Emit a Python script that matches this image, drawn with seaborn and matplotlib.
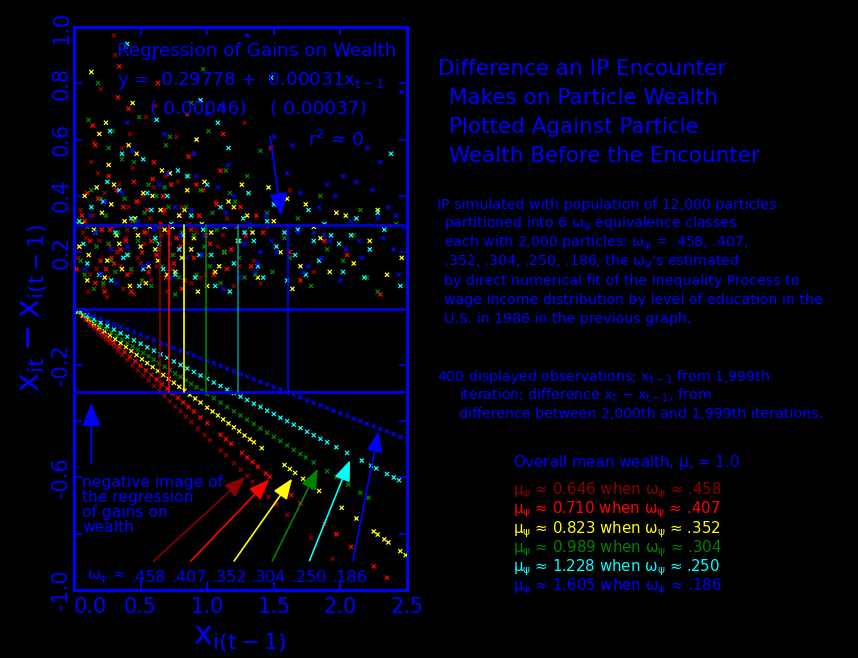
import numpy as np
import pandas as pd
import matplotlib
matplotlib.use("Agg")
import matplotlib.pyplot as plt
import seaborn as sns

# -----------------------------
# Data: six omega classes
# -----------------------------
omegas = [".458", ".407", ".352", ".304", ".250", ".186"]
class_means = [0.646, 0.710, 0.823, 0.989, 1.228, 1.605]
mean_labels = ["0.646", "0.710", "0.823", "0.989", "1.228", "1.605"]
class_colors = ["#8b0000", "#ff0000", "#ffff00", "#008200", "#00ffff", "#0000ff"]
vline_colors = ["#8b0000", "#ff0000", "#ffff00", "#008200", "#008b8b", "#0000ff"]

intercept = 0.29778  # regression of gains on wealth

# losses (points on the lines), x = wealth before, y = change
loss_x_458 = [0.03, 0.06, 0.09, 0.12, 0.15, 0.18, 0.21, 0.24, 0.27, 0.30, 0.33, 0.36, 0.40, 0.44,
              0.48, 0.52, 0.56, 0.60, 0.64, 0.68, 0.72, 0.76, 0.80, 0.84, 0.88, 0.93, 0.98, 1.02,
              1.10, 1.14, 1.20, 1.25, 1.30, 1.34, 1.46, 1.52, 1.60, 1.78, 1.94]
loss_y_458 = [-0.014, -0.027, -0.041, -0.055, -0.069, -0.082, -0.096, -0.110, -0.124, -0.137,
              -0.151, -0.165, -0.183, -0.202, -0.220, -0.238, -0.256, -0.275, -0.293, -0.311,
              -0.330, -0.348, -0.366, -0.385, -0.403, -0.426, -0.449, -0.467, -0.504, -0.522,
              -0.550, -0.573, -0.595, -0.614, -0.669, -0.696, -0.733, -0.815, -0.889]

loss_x_407 = [0.03, 0.06, 0.09, 0.12, 0.15, 0.18, 0.21, 0.24, 0.27, 0.30, 0.34, 0.38, 0.42, 0.46,
              0.50, 0.54, 0.58, 0.62, 0.66, 0.70, 0.74, 0.78, 0.82, 0.86, 0.90, 0.95, 1.00, 1.10,
              1.14, 1.18, 1.26, 1.30, 1.34, 1.38, 1.44, 1.47, 1.63, 1.70, 1.88, 1.97, 2.08, 2.25, 2.35]
loss_y_407 = [-0.012, -0.024, -0.037, -0.049, -0.061, -0.073, -0.085, -0.098, -0.110, -0.122,
              -0.138, -0.155, -0.171, -0.187, -0.204, -0.220, -0.236, -0.252, -0.269, -0.285,
              -0.301, -0.317, -0.334, -0.350, -0.366, -0.387, -0.407, -0.448, -0.464, -0.480,
              -0.513, -0.529, -0.545, -0.562, -0.586, -0.598, -0.663, -0.692, -0.765, -0.802,
              -0.847, -0.916, -0.956]

loss_x_352 = [0.03, 0.07, 0.11, 0.15, 0.19, 0.23, 0.27, 0.31, 0.35, 0.39, 0.43, 0.47, 0.51, 0.55,
              0.59, 0.63, 0.67, 0.71, 0.75, 0.79, 0.83, 0.87, 0.91, 0.95, 1.00, 1.04, 1.08, 1.12,
              1.16, 1.20, 1.24, 1.28, 1.32, 1.35, 1.41, 1.58, 1.62, 1.66, 1.72, 1.76, 1.80, 1.84,
              2.01, 2.12, 2.25, 2.28, 2.33, 2.36, 2.45, 2.49]
loss_y_352 = [-0.011, -0.025, -0.039, -0.053, -0.067, -0.081, -0.095, -0.109, -0.123, -0.137,
              -0.151, -0.165, -0.180, -0.194, -0.208, -0.222, -0.236, -0.250, -0.264, -0.278,
              -0.292, -0.306, -0.320, -0.334, -0.352, -0.366, -0.380, -0.394, -0.408, -0.422,
              -0.436, -0.451, -0.465, -0.475, -0.496, -0.556, -0.570, -0.584, -0.605, -0.620,
              -0.634, -0.648, -0.708, -0.746, -0.792, -0.803, -0.820, -0.831, -0.862, -0.876]

loss_x_304 = [0.04, 0.08, 0.12, 0.16, 0.20, 0.24, 0.28, 0.32, 0.36, 0.40, 0.44, 0.48, 0.52, 0.56,
              0.60, 0.64, 0.68, 0.72, 0.76, 0.80, 0.84, 0.88, 0.92, 0.96, 1.00, 1.05, 1.10, 1.15,
              1.20, 1.25, 1.30, 1.35, 1.40, 1.45, 1.50, 1.55, 1.60, 1.65, 1.70, 1.74, 1.80, 1.90,
              1.97, 2.06, 2.15, 2.21]
loss_y_304 = [-0.012, -0.024, -0.036, -0.049, -0.061, -0.073, -0.085, -0.097, -0.109, -0.122,
              -0.134, -0.146, -0.158, -0.170, -0.182, -0.195, -0.207, -0.219, -0.231, -0.243,
              -0.255, -0.268, -0.280, -0.292, -0.304, -0.319, -0.334, -0.350, -0.365, -0.380,
              -0.395, -0.410, -0.426, -0.441, -0.456, -0.471, -0.486, -0.502, -0.517, -0.529,
              -0.547, -0.578, -0.599, -0.626, -0.654, -0.672]

loss_x_250 = [0.05, 0.10, 0.15, 0.20, 0.25, 0.30, 0.35, 0.40, 0.45, 0.50, 0.55, 0.60, 0.65, 0.70,
              0.75, 0.80, 0.85, 0.90, 0.95, 1.00, 1.05, 1.10, 1.15, 1.20, 1.25, 1.30, 1.35, 1.40,
              1.45, 1.50, 1.55, 1.60, 1.65, 1.70, 1.75, 1.80, 1.85, 1.90, 1.97, 2.05, 2.16, 2.23,
              2.27, 2.35, 2.40, 2.44]
loss_y_250 = [-0.013, -0.025, -0.038, -0.050, -0.063, -0.075, -0.088, -0.100, -0.113, -0.125,
              -0.138, -0.150, -0.163, -0.175, -0.188, -0.200, -0.213, -0.225, -0.238, -0.250,
              -0.263, -0.275, -0.288, -0.300, -0.313, -0.325, -0.338, -0.350, -0.363, -0.375,
              -0.388, -0.400, -0.413, -0.425, -0.438, -0.450, -0.463, -0.475, -0.493, -0.513,
              -0.540, -0.558, -0.568, -0.588, -0.600, -0.610]

loss_x_186 = [0.10, 0.15, 0.20, 0.25, 0.30, 0.35, 0.40, 0.45, 0.50, 0.55, 0.60, 0.65, 0.70, 0.75,
              0.80, 0.85, 0.90, 0.95, 1.00, 1.05, 1.10, 1.15, 1.20, 1.25, 1.30, 1.35, 1.40, 1.45,
              1.50, 1.55, 1.60, 1.65, 1.70, 1.75, 1.80, 1.85, 1.90, 1.95, 2.00, 2.05, 2.10, 2.15,
              2.20, 2.25, 2.30, 2.35, 2.40, 2.45, 2.50]
loss_y_186 = [-0.019, -0.028, -0.037, -0.047, -0.056, -0.065, -0.074, -0.084, -0.093, -0.102,
              -0.112, -0.121, -0.130, -0.140, -0.149, -0.158, -0.167, -0.177, -0.186, -0.195,
              -0.205, -0.214, -0.223, -0.233, -0.242, -0.251, -0.260, -0.270, -0.279, -0.288,
              -0.298, -0.307, -0.316, -0.326, -0.335, -0.344, -0.353, -0.363, -0.372, -0.381,
              -0.391, -0.400, -0.409, -0.419, -0.428, -0.437, -0.446, -0.456, -0.465]

# gains (scattered points above zero)
gain_x_458 = [0.05, 0.12, 0.18, 0.22, 0.27, 0.31, 0.35, 0.38, 0.42, 0.45, 0.48, 0.52, 0.55, 0.58,
              0.61, 0.64, 0.67, 0.70, 0.74, 0.78, 0.82, 0.86, 0.90, 0.95, 1.00, 1.06, 1.12, 1.20,
              1.28, 1.35, 1.45, 1.62, 1.80, 0.09, 0.15, 0.25, 0.33, 0.40, 0.50, 0.60, 0.72, 0.88,
              1.15, 0.20, 0.44,
              0.03, 0.07, 0.11, 0.14, 0.17, 0.19, 0.23, 0.26, 0.29, 0.32, 0.34, 0.37, 0.39, 0.41,
              0.43, 0.46, 0.49, 0.51, 0.53, 0.57, 0.62, 0.66, 0.69, 0.75, 0.81, 0.92, 0.99, 1.08,
              1.24, 1.40, 0.13, 0.36, 0.54, 0.77, 0.30]
gain_y_458 = [0.35, 0.12, 0.48, 0.08, 0.22, 0.90, 0.15, 0.31, 0.62, 0.05, 0.18, 0.40, 0.27, 0.10,
              0.72, 0.21, 0.34, 0.06, 0.14, 0.45, 0.24, 0.30, 0.55, 0.11, 0.19, 0.38, 0.26, 0.08,
              0.66, 0.17, 0.29, 0.42, 0.13, 0.25, 0.59, 0.04, 0.20, 0.28, 0.16, 0.43, 0.23, 0.09,
              0.32, 0.78, 0.50,
              0.18, 0.27, 0.06, 0.33, 0.14, 0.24, 0.41, 0.11, 0.29, 0.20, 0.44, 0.07, 0.25, 0.36,
              0.13, 0.28, 0.38, 0.09, 0.23, 0.32, 0.15, 0.26, 0.47, 0.19, 0.36, 0.27, 0.12, 0.22,
              0.15, 0.09, 0.52, 0.57, 0.68, 0.61, 0.97]

gain_x_407 = [0.04, 0.10, 0.16, 0.21, 0.26, 0.30, 0.34, 0.39, 0.43, 0.47, 0.51, 0.56, 0.60, 0.65,
              0.69, 0.73, 0.77, 0.81, 0.85, 0.90, 0.94, 0.99, 1.05, 1.10, 1.18, 1.25, 1.33, 1.42,
              1.55, 1.70, 1.88, 2.05, 2.30, 0.08, 0.14, 0.24, 0.37, 0.53, 0.63, 0.80, 0.97, 1.22,
              1.48, 0.28, 0.68,
              0.02, 0.06, 0.12, 0.18, 0.20, 0.23, 0.27, 0.32, 0.35, 0.40, 0.44, 0.45, 0.49, 0.55,
              0.58, 0.62, 0.67, 0.71, 0.75, 0.79, 0.83, 0.88, 0.92, 1.02, 1.07, 1.15, 1.29, 1.37,
              1.62, 0.16, 0.41, 0.59, 0.86, 1.12, 0.33]
gain_y_407 = [0.22, 0.41, 0.09, 0.28, 0.47, 0.16, 0.86, 0.24, 0.06, 0.38, 0.20, 0.13, 0.52, 0.30,
              0.11, 0.44, 0.25, 0.07, 0.69, 0.18, 0.33, 0.26, 0.12, 0.49, 0.21, 0.36, 0.15, 0.27,
              0.40, 0.10, 0.24, 0.19, 0.05, 0.31, 0.65, 0.14, 0.36, 0.27, 0.80, 0.22, 0.42, 0.29,
              0.57, 0.18, 0.35,
              0.14, 0.33, 0.24, 0.39, 0.17, 0.06, 0.28, 0.42, 0.21, 0.12, 0.31, 0.45, 0.08, 0.35,
              0.24, 0.19, 0.40, 0.27, 0.16, 0.33, 0.10, 0.28, 0.44, 0.23, 0.37, 0.14, 0.26, 0.33,
              0.20, 0.58, 0.71, 0.46, 0.54, 0.62, 0.75]

gain_x_352 = [0.06, 0.11, 0.17, 0.23, 0.28, 0.32, 0.36, 0.41, 0.46, 0.50, 0.54, 0.59, 0.63, 0.68,
              0.72, 0.76, 0.83, 0.88, 0.93, 0.98, 1.03, 1.09, 1.16, 1.23, 1.30, 1.38, 1.46, 1.55,
              1.64, 1.74, 1.85, 1.97, 2.10, 2.22, 2.35, 2.46, 0.13, 0.26, 0.44, 0.57, 0.79, 1.00,
              1.60, 1.92, 0.19,
              0.04, 0.08, 0.10, 0.15, 0.21, 0.25, 0.30, 0.34, 0.38, 0.42, 0.48, 0.52, 0.56, 0.61,
              0.65, 0.70, 0.74, 0.81, 0.85, 0.90, 0.96, 1.06, 1.13, 1.20, 1.34, 1.50, 1.70, 1.80,
              2.04, 0.24, 0.47, 0.66, 0.92, 1.26, 2.28]
gain_y_352 = [0.30, 0.19, 0.43, 0.11, 0.37, 0.26, 0.14, 0.58, 0.32, 0.22, 0.09, 0.40, 0.17, 0.28,
              0.48, 0.13, 0.35, 0.21, 0.06, 0.45, 0.27, 0.15, 0.38, 0.24, 0.33, 0.11, 0.43, 0.20,
              0.07, 0.37, 0.25, 0.34, 0.16, 0.24, 0.12, 0.18, 0.84, 0.51, 0.73, 0.29, 0.33, 0.08,
              0.39, 0.13, 0.62,
              0.22, 0.40, 0.10, 0.28, 0.34, 0.17, 0.44, 0.23, 0.31, 0.08, 0.26, 0.41, 0.15, 0.21,
              0.35, 0.12, 0.29, 0.18, 0.42, 0.25, 0.30, 0.13, 0.20, 0.36, 0.27, 0.31, 0.15, 0.29,
              0.33, 0.66, 0.55, 0.49, 0.60, 0.44, 0.35]

gain_x_304 = [0.05, 0.10, 0.15, 0.20, 0.26, 0.31, 0.36, 0.41, 0.46, 0.51, 0.56, 0.61, 0.66, 0.71,
              0.76, 0.81, 0.86, 0.92, 0.98, 1.04, 1.10, 1.17, 1.24, 1.32, 1.40, 1.49, 1.58, 1.68,
              1.78, 1.90, 2.02, 2.15, 2.28, 2.42, 0.18, 0.29, 0.49, 0.69, 0.88, 1.14, 1.36, 0.39,
              0.62, 1.01, 2.20,
              0.03, 0.08, 0.13, 0.17, 0.22, 0.24, 0.28, 0.33, 0.38, 0.43, 0.48, 0.53, 0.58, 0.64,
              0.68, 0.74, 0.79, 0.84, 0.90, 0.95, 1.02, 1.07, 1.13, 1.21, 1.28, 1.45, 1.62, 1.85,
              2.10, 0.26, 0.45, 0.72, 0.97, 1.30, 0.11]
gain_y_304 = [0.17, 0.29, 0.07, 0.39, 0.23, 0.13, 0.53, 0.19, 0.31, 0.10, 0.44, 0.24, 0.15, 0.36,
              0.05, 0.27, 0.47, 0.12, 0.22, 0.34, 0.09, 0.41, 0.18, 0.29, 0.56, 0.13, 0.25, 0.32,
              0.08, 0.21, 0.17, 0.35, 0.06, 0.30, 0.80, 0.63, 0.68, 0.58, 0.73, 0.49, 0.12, 0.93,
              0.40, 0.63, 0.11,
              0.30, 0.12, 0.42, 0.22, 0.09, 0.33, 0.17, 0.27, 0.39, 0.14, 0.24, 0.34, 0.08, 0.29,
              0.43, 0.19, 0.11, 0.36, 0.26, 0.42, 0.15, 0.28, 0.20, 0.38, 0.11, 0.34, 0.18, 0.40,
              0.26, 0.57, 0.52, 0.61, 0.85, 0.47, 0.67]

gain_x_250 = [0.07, 0.13, 0.19, 0.25, 0.31, 0.37, 0.43, 0.49, 0.55, 0.61, 0.67, 0.73, 0.79, 0.85,
              0.91, 0.97, 1.03, 1.10, 1.17, 1.24, 1.31, 1.38, 1.45, 1.52, 1.60, 1.68, 1.76, 1.84,
              1.93, 2.02, 2.12, 2.22, 2.33, 2.45, 0.27, 0.52, 0.78, 1.08, 1.28, 1.56, 1.99, 2.38,
              0.95, 1.74, 0.40,
              0.04, 0.10, 0.16, 0.22, 0.28, 0.34, 0.40, 0.46, 0.52, 0.58, 0.64, 0.70, 0.76, 0.82,
              0.88, 0.94, 1.00, 1.06, 1.13, 1.20, 1.27, 1.35, 1.42, 1.50, 1.58, 1.66, 1.80, 1.88,
              2.08, 2.18, 2.28, 0.36, 0.62, 1.16, 1.48]
gain_y_250 = [0.23, 0.36, 0.12, 0.45, 0.27, 0.18, 0.32, 0.08, 0.41, 0.25, 0.14, 0.30, 0.21, 0.47,
              0.11, 0.28, 0.19, 0.36, 0.06, 0.24, 0.41, 0.15, 0.31, 0.22, 0.10, 0.28, 0.35, 0.17,
              0.26, 0.13, 0.32, 0.21, 0.28, 0.08, 0.63, 0.53, 0.49, 0.66, 0.27, 0.38, 0.23, 0.55,
              0.74, 0.12, 0.94,
              0.31, 0.16, 0.27, 0.38, 0.10, 0.42, 0.19, 0.29, 0.14, 0.35, 0.23, 0.40, 0.12, 0.26,
              0.33, 0.19, 0.44, 0.08, 0.29, 0.16, 0.32, 0.24, 0.11, 0.37, 0.27, 0.19, 0.24, 0.30,
              0.26, 0.11, 0.34, 0.55, 0.67, 0.57, 0.82]

gain_x_186 = [0.08, 0.16, 0.24, 0.32, 0.40, 0.48, 0.56, 0.64, 0.72, 0.80, 0.88, 0.96, 1.04, 1.12,
              1.20, 1.28, 1.36, 1.44, 1.52, 1.60, 1.68, 1.76, 1.84, 1.92, 2.00, 2.08, 2.16, 2.24,
              2.32, 2.40, 2.48, 0.44, 0.68, 0.92, 1.16, 1.40, 1.64, 1.88, 2.12, 2.36, 1.00, 1.30,
              1.90, 2.20, 0.60,
              0.12, 0.20, 0.28, 0.36, 0.52, 0.60, 0.76, 0.84, 1.08, 1.24, 1.32, 1.48, 1.56, 1.72,
              1.80, 1.96, 2.04, 2.28, 2.44, 0.70, 0.98, 1.14, 1.38, 1.62, 1.86, 2.14, 2.42, 0.90,
              1.50, 2.30, 0.40, 1.10, 1.70, 2.02, 2.46]
gain_y_186 = [0.14, 0.27, 0.38, 0.09, 0.22, 0.31, 0.16, 0.44, 0.11, 0.26, 0.35, 0.19, 0.29, 0.07,
              0.40, 0.23, 0.13, 0.33, 0.20, 0.48, 0.27, 0.15, 0.36, 0.24, 0.10, 0.31, 0.18, 0.42,
              0.25, 0.21, 0.29, 0.56, 0.62, 0.47, 0.51, 0.20, 0.58, 0.26, 0.45, 0.36, 0.69, 0.97,
              0.44, 0.57, 0.89,
              0.33, 0.12, 0.21, 0.41, 0.15, 0.28, 0.36, 0.18, 0.43, 0.11, 0.30, 0.24, 0.37, 0.13,
              0.27, 0.40, 0.21, 0.32, 0.12, 0.48, 0.26, 0.34, 0.16, 0.29, 0.18, 0.24, 0.33, 0.55,
              0.61, 0.52, 0.66, 0.72, 0.41, 0.47, 0.77]

loss_x = [loss_x_458, loss_x_407, loss_x_352, loss_x_304, loss_x_250, loss_x_186]
loss_y = [loss_y_458, loss_y_407, loss_y_352, loss_y_304, loss_y_250, loss_y_186]
gain_x = [gain_x_458, gain_x_407, gain_x_352, gain_x_304, gain_x_250, gain_x_186]
gain_y = [gain_y_458, gain_y_407, gain_y_352, gain_y_304, gain_y_250, gain_y_186]

# arrow tails/heads from the omega labels to the end of each line
arrow_tail_x = [0.58, 0.86, 1.19, 1.48, 1.76, 2.09]
arrow_head_x = [1.30, 1.48, 1.65, 1.84, 2.08, 2.29]
arrow_head_y = [-0.592, -0.600, -0.596, -0.560, -0.530, -0.426]

rows = []
for w, gx, gy, lx, ly in zip(omegas, gain_x, gain_y, loss_x, loss_y):
    for a, b in zip(gx + lx, gy + ly):
        rows.append((w, a, b))
df = pd.DataFrame(rows, columns=["omega", "x_prev", "diff"])

# -----------------------------
# Figure
# -----------------------------
sns.set_style("ticks")
plt.rcParams["font.family"] = ["DejaVu Sans"]
plt.rcParams["mathtext.default"] = "regular"
plt.rcParams["axes.unicode_minus"] = False

BLUE = "#0000ff"
W, H = 858, 658
fig = plt.figure(figsize=(W / 100, H / 100), dpi=100, facecolor="black")
ax = fig.add_axes([74 / W, 1 - 590 / H, 333 / W, 563 / H])
ax.set_facecolor("black")


def fx(px):
    return px / W


def fy(py):
    return 1 - py / H


sns.scatterplot(data=df, x="x_prev", y="diff", hue="omega", hue_order=omegas,
                palette=dict(zip(omegas, class_colors)), marker="x", s=9,
                linewidth=0.9, legend=False, ax=ax, zorder=3)

# regression line and its negative image
ax.axhline(intercept, color="#0000d0", lw=2.2, zorder=4)
ax.axhline(-intercept, color="#0000d0", lw=2.2, zorder=4)
ax.axhline(0, color="#0000d0", lw=2.2, zorder=4)

# vertical lines at class mean wealth
for m, c in zip(class_means, vline_colors):
    ax.plot([m, m], [-intercept, intercept], color=c, lw=1.2, zorder=4)

ax.set_xlim(0, 2.5)
ax.set_ylim(-1, 1)
ax.set_xticks([0, 0.5, 1.0, 1.5, 2.0, 2.5])
ax.set_xticklabels(["0.0", "0.5", "1.0", "1.5", "2.0", "2.5"])
ax.set_yticks([-1.0, -0.8, -0.6, -0.4, -0.2, 0.0, 0.2, 0.4, 0.6, 0.8, 1.0])
ax.set_yticklabels(["-1.0", "", "-0.6", "", "-0.2", "", "0.2", "0.4", "0.6", "0.8", "1.0"],
                   rotation=90, va="center")
ax.xaxis.get_ticklabels()[0].set_horizontalalignment("left")
ax.tick_params(direction="in", length=6, width=1.2, colors=BLUE, labelsize=15,
               top=True, right=True)
ax.tick_params(axis="y", pad=2)
ax.tick_params(axis="x", pad=5)
for sp in ax.spines.values():
    sp.set_color(BLUE)
    sp.set_linewidth(2.2)
ax.set_xlabel("")
ax.set_ylabel("")

fig.text(fx(34), fy(308), r"$x_{it} - x_{i(t-1)}$", rotation=90, color=BLUE,
         fontsize=23, ha="center", va="center")
fig.text(fx(240), fy(638), r"$x_{i(t-1)}$", color=BLUE, fontsize=23,
         ha="center", va="center")

# -----------------------------
# Annotations inside the plot
# -----------------------------
ax.text(0.32, 0.915, "Regression of Gains on Wealth", color=BLUE, fontsize=13.2,
        ha="left", va="center", zorder=6)
ax.text(0.32, 0.81, r"y =  0.29778 +  0.00031$x_{t-1}$", color=BLUE, fontsize=13.2,
        ha="left", va="center", zorder=6)
ax.text(0.57, 0.71, "( 0.00046)    ( 0.00037)", color=BLUE, fontsize=13.2,
        ha="left", va="center", zorder=6)
ax.text(1.76, 0.60, r"$r^2$ ≈ 0", color=BLUE, fontsize=13.2, ha="left", va="center", zorder=6)
ax.annotate("", xy=(1.56, 0.319), xytext=(1.47, 0.62),
            arrowprops=dict(arrowstyle="-|>,head_length=1.0,head_width=0.4",
                            color=BLUE, lw=1.3, mutation_scale=14), zorder=6)

ax.annotate("", xy=(0.13, -0.326), xytext=(0.13, -0.56),
            arrowprops=dict(arrowstyle="-|>,head_length=1.0,head_width=0.4",
                            color=BLUE, lw=1.3, mutation_scale=14), zorder=6)
for i, line in enumerate(["negative image of", "the regression", "of gains on", "wealth"]):
    ax.text(0.06, -0.617 - 0.054 * i, line, color=BLUE, fontsize=11.2,
            ha="left", va="center", zorder=6)

ax.text(0.10, -0.954, r"$\omega_\psi$ ≈", color=BLUE, fontsize=11,
        ha="left", va="center", zorder=6)
label_x = [0.556, 0.864, 1.164, 1.456, 1.764, 2.065]
for lx, w in zip(label_x, omegas):
    ax.text(lx, -0.954, w, color=BLUE, fontsize=11.5, ha="center", va="center", zorder=6)

for tx, hx, hy, c in zip(arrow_tail_x, arrow_head_x, arrow_head_y, class_colors):
    ax.annotate("", xy=(hx, hy), xytext=(tx, -0.905),
                arrowprops=dict(arrowstyle="-|>,head_length=0.9,head_width=0.35",
                                color=c, lw=1.2, mutation_scale=14), zorder=6)

# -----------------------------
# Text on the right
# -----------------------------
title_lines = ["Difference an IP Encounter", "Makes on Particle Wealth",
               "Plotted Against Particle", "Wealth Before the Encounter"]
for i, t in enumerate(title_lines):
    fig.text(fx(438 if i == 0 else 449), fy(69 + 29 * i), t, color=BLUE,
             fontsize=15.5, ha="left", va="center")

para1 = ["IP simulated with population of 12,000 particles",
         r"partitioned into 6 $\omega_\psi$ equivalence classes",
         r"each with 2,000 particles: $\omega_\psi$ = .458, .407,",
         r".352, .304, .250, .186, the $\omega_\psi$'s estimated",
         "by direct numerical fit of the Inequality Process to",
         "wage income distribution by level of education in the",
         "U.S. in 1986 in the previous graph."]
for i, t in enumerate(para1):
    fig.text(fx(437 if i == 0 else 444), fy(205 + 19 * i), t, color=BLUE,
             fontsize=10.2, ha="left", va="center")

para2 = [r"400 displayed observations; $x_{t-1}$ from 1,999th",
         r"iteration; difference $x_t$ − $x_{t-1}$, from",
         "difference between 2,000th and 1,999th iterations."]
for i, t in enumerate(para2):
    fig.text(fx(437 if i == 0 else 459), fy(377 + 18.5 * i), t, color=BLUE,
             fontsize=10.2, ha="left", va="center")

fig.text(fx(513), fy(463), r"Overall mean wealth, $\mu$, = 1.0", color=BLUE,
         fontsize=10.8, ha="left", va="center")
for i, (m, w, c) in enumerate(zip(mean_labels, omegas, class_colors)):
    fig.text(fx(513), fy(491 + 19.2 * i), rf"$\mu_\psi$ ≈ {m} when $\omega_\psi$ ≈ {w}",
             color=c, fontsize=10.8, ha="left", va="center")

fig.savefig("out.png", dpi=100, facecolor="black")
